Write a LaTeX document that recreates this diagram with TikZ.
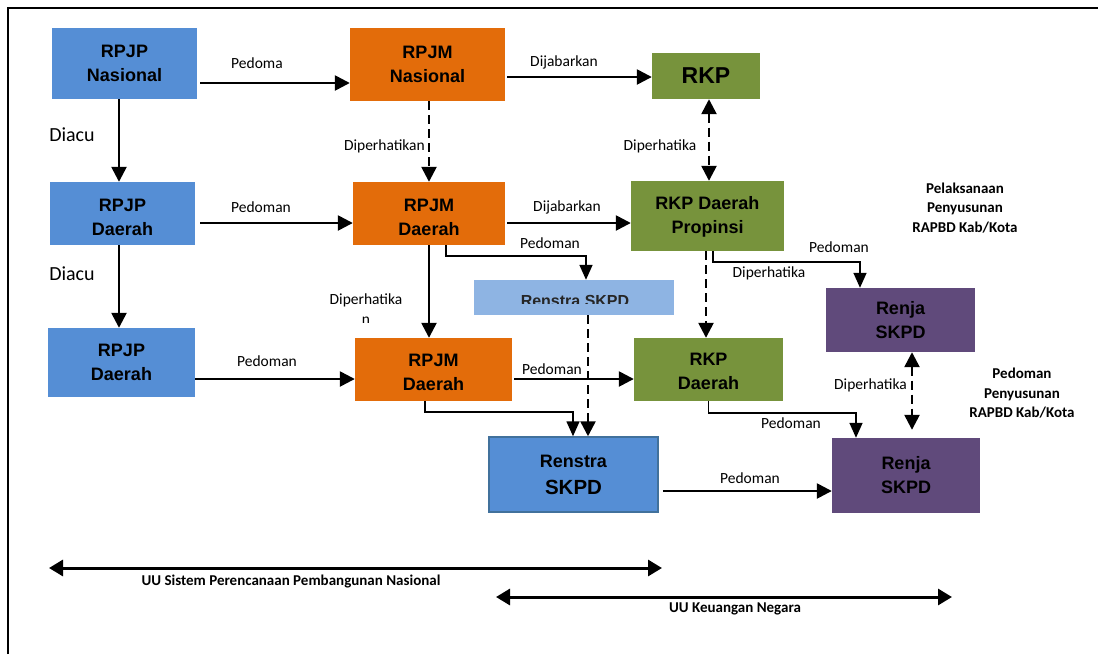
\documentclass[tikz,border=0pt]{standalone}
\usepackage{fontspec}
\setmainfont{Carlito}
\newfontfamily\boxfont{Liberation Sans}
\usetikzlibrary{arrows.meta}
\definecolor{cblue}{HTML}{558ED5}
\definecolor{cblueline}{HTML}{41719C}
\definecolor{clight}{HTML}{8EB4E3}
\definecolor{corange}{HTML}{E36C0A}
\definecolor{cgreen}{HTML}{77933C}
\definecolor{cpurple}{HTML}{604A7B}
\tikzset{
  box/.style={rectangle, inner sep=0pt, draw=none},
  btxt/.style={inner sep=0pt, align=center, text=black,
    font=\boxfont\bfseries\fontsize{18}{24}\selectfont},
  lbl/.style={inner sep=0pt, text height=0.64em, text depth=0pt,
    font=\fontsize{15.5}{19}\selectfont},
  lblbig/.style={inner sep=0pt, text height=0.64em, text depth=0pt,
    font=\fontsize{20}{24}\selectfont},
  note/.style={inner sep=0pt, align=center,
    font=\bfseries\fontsize{15}{19.5}\selectfont},
  arr/.style={line width=2.5pt, -{Triangle[length=15pt,width=15pt]}},
  darr/.style={arr, dash pattern=on 9pt off 5pt},
  ddarr/.style={line width=2.5pt, dash pattern=on 9pt off 5pt,
    {Triangle[length=15pt,width=15pt]}-{Triangle[length=15pt,width=15pt]}},
  elb/.style={line width=1.6pt, -{Triangle[length=15pt,width=13pt]}},
  span/.style={line width=3pt,
    {Triangle[length=14pt,width=16pt]}-{Triangle[length=14pt,width=16pt]}},
}
\begin{document}
\begin{tikzpicture}[x=1pt,y=-1pt]
\useasboundingbox (0,0) rectangle (1098,654);
% outer frame
\draw[line width=2pt] (8,654) -- (8,7.5) -- (1098,7.5);

% planning documents
\node[box, fill=cblue, minimum width=145pt, minimum height=71pt] (rpjpn) at (124.5,63.5) {};
\node[btxt] (rpjpn-t) at (rpjpn.center) {RPJP\\Nasional};
\node[box, fill=corange, minimum width=155pt, minimum height=73pt] (rpjmn) at (427.5,64.5) {};
\node[btxt] (rpjmn-t) at (rpjmn.center) {RPJM\\Nasional};
\node[box, fill=cgreen, minimum width=108pt, minimum height=46pt] (rkp) at (706,76) {};
\node[btxt, font=\boxfont\bfseries\fontsize{23}{26}\selectfont] (rkp-t) at (rkp.center) {RKP};

\node[box, fill=cblue, minimum width=145pt, minimum height=63pt] (rpjpd1) at (122.5,213.5) {};
\node[btxt] (rpjpd1-t) at ([shift={(0,4)}]rpjpd1.center) {RPJP\\Daerah};
\node[box, fill=corange, minimum width=152pt, minimum height=63pt] (rpjmd1) at (429,213.5) {};
\node[btxt] (rpjmd1-t) at ([shift={(0,4)}]rpjmd1.center) {RPJM\\Daerah};
\node[box, fill=cgreen, minimum width=153pt, minimum height=70pt] (rkpprop) at (707.5,216) {};
\node[btxt] (rkpprop-t) at ([shift={(0,1)}]rkpprop.center) {RKP Daerah\\Propinsi};

\node[box, fill=clight, minimum width=200pt, minimum height=35pt] (renstraL) at (574,297.5) {};
\begin{scope}
  \clip (474,280) rectangle (674,303);
  \node[btxt, font=\boxfont\bfseries\fontsize{16}{19}\selectfont, anchor=base, text=black!85] (renstraL-t) at (575,306.5) {Renstra SKPD};
\end{scope}

\node[box, fill=cblue, minimum width=147pt, minimum height=69pt] (rpjpd2) at (121.5,362.5) {};
\node[btxt] (rpjpd2-t) at (rpjpd2.center) {RPJP\\Daerah};
\node[box, fill=corange, minimum width=157pt, minimum height=63pt] (rpjmd2) at (433.5,369.5) {};
\node[btxt] (rpjmd2-t) at ([shift={(0,3)}]rpjmd2.center) {RPJM\\Daerah};
\node[box, fill=cgreen, minimum width=149pt, minimum height=63pt] (rkpd) at (708.5,369.5) {};
\node[btxt] (rkpd-t) at ([shift={(0,2)}]rkpd.center) {RKP\\Daerah};

\node[box, fill=cpurple, minimum width=149pt, minimum height=64pt] (renja1) at (900.5,320) {};
\node[btxt] (renja1-t) at (renja1.center) {Renja\\SKPD};

\node[box, fill=cblue, draw=cblueline, line width=1.5pt, minimum width=169pt, minimum height=75pt] (renstra) at (573.5,474.5) {};
\node[btxt, font=\boxfont\bfseries\fontsize{18}{27}\selectfont] (renstra-t) at (renstra.center) {Renstra\\{\fontsize{20.5}{27}\selectfont SKPD}};
\node[box, fill=cpurple, minimum width=148pt, minimum height=75pt] (renja2) at (906,475.5) {};
\node[btxt] (renja2-t) at (renja2.center) {Renja\\SKPD};

% connectors
\draw[arr] ([shift={(3,19.5)}]rpjpn.east) -- ([shift={(0,18.5)}]rpjmn.west);
\draw[arr] ([shift={(2,12.5)}]rpjmn.east) -- ([shift={(0,1)}]rkp.west);
\draw[arr] ([shift={(-5.5,0)}]rpjpn.south) -- ([shift={(-3.5,0)}]rpjpd1.north);
\draw[darr] ([shift={(1.5,0)}]rpjmn.south) -- (rpjmd1.north);
\draw[ddarr] ([shift={(3,0)}]rkp.south) -- ([shift={(1.5,0)}]rkpprop.north);

\draw[arr] ([shift={(5,9.5)}]rpjpd1.east) -- ([shift={(0,9.5)}]rpjmd1.west);
\draw[arr] ([shift={(2,9.5)}]rpjmd1.east) -- ([shift={(0,7)}]rkpprop.west);
\draw[elb] ([shift={(17,0)}]rpjmd1.south) |- ([shift={(12,-24)}]renstraL.north) -- ([shift={(12,0)}]renstraL.north);
\draw[arr] ([shift={(-3.5,0)}]rpjpd1.south) -- ([shift={(-2.5,0)}]rpjpd2.north);
\draw[arr] (rpjmd1.south) -- ([shift={(-4.5,0)}]rpjmd2.north);
\draw[darr] ([shift={(-1.5,0)}]rkpprop.south) -- ([shift={(-2.5,0)}]rkpd.north);
\draw[elb] ([shift={(5.5,0)}]rkpprop.south) |- ([shift={(-40.5,-26)}]renja1.north) -- ([shift={(-40.5,0)}]renja1.north);
\draw[darr] ([shift={(14,0)}]renstraL.south) -- ([shift={(14.5,0)}]renstra.north);

\draw[arr] ([shift={(0,16.5)}]rpjpd2.east) -- ([shift={(0,9.5)}]rpjmd2.west);
\draw[arr] ([shift={(2,9.5)}]rpjmd2.east) -- ([shift={(0,9.5)}]rkpd.west);
\draw[elb] ([shift={(-8.5,0)}]rpjmd2.south) |- ([shift={(-0.5,-24)}]renstra.north) -- ([shift={(-0.5,0)}]renstra.north);
\draw[elb] (rkpd.south) |- ([shift={(-50,-25)}]renja2.north) -- ([shift={(-50,0)}]renja2.north);
\draw[ddarr] ([shift={(11.5,0)}]renja1.south) -- ([shift={(6,-8)}]renja2.north);
\draw[arr] ([shift={(4,16.5)}]renstra.east) -- ([shift={(0,15.5)}]renja2.west);

% connector labels
\node[lbl] (l1) at (257,65) {Pedoma};
\node[lbl] (l2) at (564,63) {Dijabarkan};
\node[lblbig] (l3) at (72,138) {Diacu};
\node[lbl, anchor=east] (l4) at (425,147) {Diperhatikan};
\node[lbl] (l5) at (660,147) {Diperhatika};
\node[lbl] (l6) at (261,209) {Pedoman};
\node[lbl] (l7) at (567,208) {Dijabarkan};
\node[lbl] (l8) at (550,245) {Pedoman};
\node[lblbig] (l9) at (72,277) {Diacu};
\node[lbl] (l10) at (366,301) {Diperhatika};
\begin{scope}
  \clip (340,310) rectangle (400,322);
  \node[lbl, anchor=base] (l10b) at (366,324.5) {n};
\end{scope}
\node[lbl] (l11) at (839,249) {Pedoman};
\node[lbl] (l12) at (769,274) {Diperhatika};
\node[lbl] (l13) at (267,363) {Pedoman};
\node[lbl] (l14) at (552,371) {Pedoman};
\node[lbl, anchor=east] (l15) at (907,386) {Diperhatika};
\node[lbl] (l16) at (791,425) {Pedoman};
\node[lbl] (l17) at (750,480) {Pedoman};

% side notes
\node[note] (n1) at (965,208) {Pelaksanaan\\Penyusunan\\RAPBD Kab/Kota};
\node[note] (n2) at (1022,393.5) {Pedoman\\Penyusunan\\RAPBD Kab/Kota};

% legal basis spans
\coordinate (s1a) at (49,568);
\coordinate (s1b) at (662,568);
\draw[span] (s1a) -- (s1b);
\node[lbl, font=\bfseries\fontsize{15}{18}\selectfont] (s1t) at (291,582) {UU Sistem Perencanaan Pembangunan Nasional};
\coordinate (s2a) at (496,597);
\coordinate (s2b) at (952,597);
\draw[span] (s2a) -- (s2b);
\node[lbl, font=\bfseries\fontsize{15}{18}\selectfont] (s2t) at (735,609) {UU Keuangan Negara};
\end{tikzpicture}
\end{document}
